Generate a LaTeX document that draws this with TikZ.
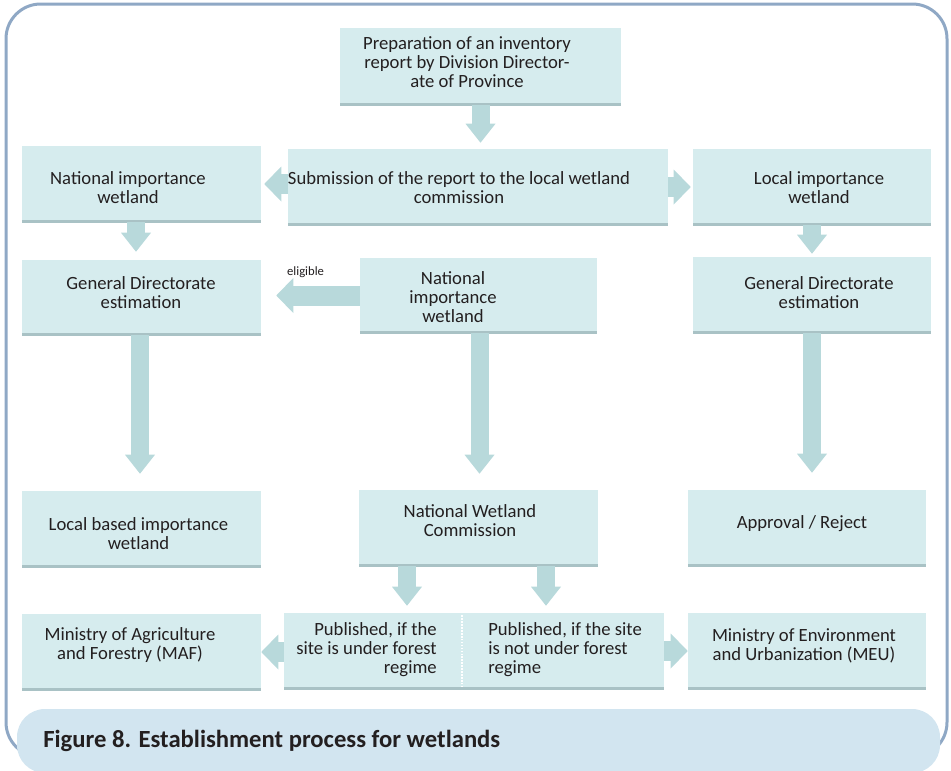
\documentclass[tikz,border=0pt]{standalone}
\usepackage{fontspec}
\setmainfont{Carlito}
\usetikzlibrary{arrows.meta,calc}

\definecolor{boxfill}{HTML}{D6ECEE}
\definecolor{boxedge}{HTML}{A9C2C5}
\definecolor{arrowfill}{HTML}{B8D9DB}
\definecolor{framecol}{HTML}{8FA8C5}
\definecolor{captionfill}{HTML}{D2E5F0}
\definecolor{inkcol}{HTML}{231F20}

\tikzset{
  box/.style={fill=boxfill, inner sep=0pt, minimum width=179.25pt, minimum height=57pt,
    path picture={\draw[boxedge, line width=2.5pt]
      (path picture bounding box.south west) -- (path picture bounding box.south east);}},
  txt/.style={text=inkcol, align=center, inner sep=0pt, font=\fontsize{14}{14.25}\selectfont},
  downarrow/.style={draw=arrowfill, line width=13.5pt,
    -{Triangle[length=14.25pt, width=22.5pt, line width=0pt]}},
  sidearrow/.style={draw=arrowfill, line width=15pt,
    -{Triangle[length=12.75pt, width=26.25pt, line width=0pt]}}
}

\begin{document}
\begin{tikzpicture}[x=0.75pt, y=-0.75pt]
\useasboundingbox (0,0) rectangle (951,771);

% frame and caption
\draw[framecol, line width=2.25pt, rounded corners=26pt] (6,4) rectangle (947,757);
\fill[captionfill, rounded corners=21pt] (17,709) rectangle (940,773);
\node[anchor=base west, inner sep=0pt, text=inkcol, font=\fontsize{18.5}{20}\selectfont\bfseries]
  (caption) at (43,747) {Figure 8. Establishment process for wetlands};

% boxes
\node[box, minimum width=210.75pt, minimum height=57.75pt] (prep) at (480.5,66.5) {};
\node[box, minimum width=285pt] (submit) at (478,187) {};
\node[box] (natimp) at (141.5,184) {};
\node[box, minimum width=178.5pt] (locimp) at (812,187) {};
\node[box, minimum height=56.25pt] (gdleft) at (141.5,297.5) {};
\node[box, minimum width=177.75pt, minimum height=56.25pt] (natmid) at (478.5,295.5) {};
\node[box, minimum width=178.5pt] (gdright) at (812,295) {};
\node[box] (localbased) at (141.5,529) {};
\node[box] (nwc) at (478.5,528) {};
\node[box, minimum width=178.5pt] (approval) at (807,528) {};
\node[box] (maf) at (141.5,652) {};
\node[box, minimum width=133.5pt] (publunder) at (373,651) {};
\node[box, minimum width=151.5pt] (pubnot) at (563,651) {};
\node[box, minimum width=178.5pt] (meu) at (807,651) {};
\draw[white, line width=1.2pt, densely dotted]
  ([yshift=-2pt]publunder.north east) -- ([yshift=2pt]publunder.south east);

% texts
\node[txt] (prep-t) at (467,62) {Preparation of an inventory\\report by Division Director-\\ate of Province};
\node[txt] (submit-t) at (459,188) {Submission of the report to the local wetland\\commission};
\node[txt] (natimp-t) at (128,188) {National importance\\wetland};
\node[txt] (locimp-t) at (819,188) {Local importance\\wetland};
\node[txt] (gdleft-t) at (141,292.5) {General Directorate\\estimation};
\node[txt] (natmid-t) at (453,297) {National\\importance\\wetland};
\node[txt] (gdright-t) at (819,292.5) {General Directorate\\estimation};
\node[txt] (localbased-t) at (138.5,534) {Local based importance\\wetland};
\node[txt] (nwc-t) at (470,521) {National Wetland\\Commission};
\node[txt] (approval-t) at (802,524) {Approval / Reject};
\node[txt] (maf-t) at (130,645.5) {Ministry of Agriculture\\and Forestry (MAF)};
\node[txt, anchor=east, align=right] (publunder-t) at (437,650) {Published, if the\\site is under forest\\regime};
\node[txt, anchor=west, align=left] (pubnot-t) at (488,650) {Published, if the site\\is not under forest\\regime};
\node[txt] (meu-t) at (804,645.5) {Ministry of Environment\\and Urbanization (MEU)};

% arrows
\draw[downarrow, shorten >=4.5pt] (prep.south) -- (prep.south |- submit.north);
\draw[sidearrow, shorten >=2.25pt] (submit.west |- natimp.east) -- (natimp.east);
\draw[sidearrow, shorten >=1.5pt] (submit.east |- locimp.west) -- (locimp.west);
\draw[downarrow, shorten >=6pt] ($(natimp.south)+(-5.5,0)$) -- ($(gdleft.north)+(-5.5,0)$);
\draw[downarrow, shorten >=2.25pt] (locimp.south) -- (gdright.north);
\draw[sidearrow, shorten >=11.25pt] (natmid.west) -- (natmid.west -| gdleft.east)
  node[pos=0.55, above=6pt, inner sep=0pt, text=inkcol, font=\fontsize{9.5}{11}\selectfont] (eligible) {eligible};
\draw[downarrow, shorten >=12.75pt] ($(gdleft.south)+(-1.5,0)$) -- ($(localbased.north)+(-1.5,0)$);
\draw[downarrow, shorten >=12pt] ($(natmid.south)+(1,0)$) -- ($(natmid.south |- nwc.north)+(1,0)$);
\draw[downarrow, shorten >=12.75pt] (gdright.south) -- (gdright.south |- approval.north);
\draw[downarrow, shorten >=5.25pt] ($(nwc.south)+(-71.5,0)$) -- ($(nwc.south |- publunder.north)+(-71.5,0)$);
\draw[downarrow, shorten >=5.25pt] ($(nwc.south)+(67.5,0)$) -- ($(nwc.south |- pubnot.north)+(67.5,0)$);
\draw[sidearrow] (publunder.west |- maf.east) -- (maf.east);
\draw[sidearrow] (pubnot.east) -- (pubnot.east -| meu.west);
\end{tikzpicture}
\end{document}
